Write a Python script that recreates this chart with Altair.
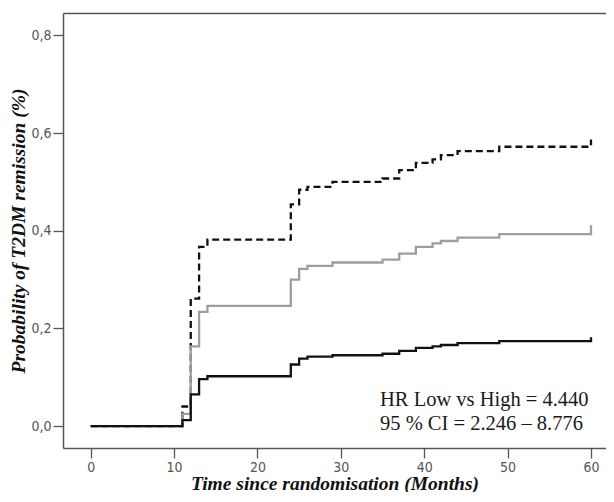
import altair as alt
import pandas as pd

# Event times (months) shared by the three Kaplan-Meier curves; last 60 = censor tick
times = [0, 11, 12, 13, 14, 24, 25, 26, 29, 35, 37, 39, 41, 42, 44, 49, 60, 60]
low_vals = [0, 0.040, 0.261, 0.367, 0.382, 0.454, 0.484, 0.490, 0.500, 0.507,
            0.524, 0.539, 0.546, 0.555, 0.563, 0.572, 0.572, 0.587]
mid_vals = [0, 0.025, 0.163, 0.234, 0.246, 0.300, 0.322, 0.328, 0.335, 0.341,
            0.353, 0.367, 0.374, 0.379, 0.386, 0.393, 0.393, 0.411]
high_vals = [0, 0.012, 0.065, 0.096, 0.102, 0.126, 0.138, 0.142, 0.145, 0.148,
             0.154, 0.160, 0.163, 0.166, 0.170, 0.174, 0.174, 0.182]
series_names = ["Low", "Medium", "High"]

annot_lines = ["HR Low vs High = 4.440", "95 % CI = 2.246 \u2013 8.776"]
annot_x = [34.7, 34.7]
annot_y = [0.053, 0.004]

rows = []
for name, vals in zip(series_names, [low_vals, mid_vals, high_vals]):
    for i, (t, v) in enumerate(zip(times, vals)):
        rows.append({"series": name, "t": t, "p": v, "i": i})
df = pd.DataFrame(rows)
ann = pd.DataFrame({"x": annot_x, "y": annot_y, "label": annot_lines})

xscale = alt.Scale(domain=[-3.32, 61.8], nice=False, zero=False)
yscale = alt.Scale(domain=[-0.045, 0.846], nice=False, zero=False)
y_title = "Probability of T2DM remission (%)"
yaxis = alt.Axis(values=[0, 0.2, 0.4, 0.6, 0.8], title=y_title,
                 labelExpr="replace(format(datum.value, '.1f'), '.', ',')",
                 grid=False, tickSize=10, labelPadding=2, titlePadding=2)

lines = alt.Chart(df).mark_line(interpolate="step-after", strokeWidth=2.3).encode(
    x=alt.X("t:Q", scale=xscale,
            axis=alt.Axis(values=[0, 10, 20, 30, 40, 50, 60], title="Time since randomisation (Months)",
                          grid=False, tickSize=10, labelPadding=2, titlePadding=0)),
    y=alt.Y("p:Q", scale=yscale, axis=yaxis, title=y_title),
    color=alt.Color("series:N", scale=alt.Scale(domain=series_names, range=["#111111", "#9e9e9e", "#111111"]), legend=None),
    strokeDash=alt.StrokeDash("series:N", scale=alt.Scale(domain=series_names, range=[[7, 4], [1, 0], [1, 0]]), legend=None),
    detail="series:N",
    order=alt.Order("i:Q"),
)

text = alt.Chart(ann).mark_text(align="left", baseline="middle", font="Liberation Serif",
                                fontSize=20.5, color="#1a1a1a").encode(
    x=alt.X("x:Q", scale=xscale,
            axis=alt.Axis(orient="top", labels=False, ticks=False, title=None, domain=True, grid=False)),
    y=alt.Y("y:Q", scale=yscale, axis=yaxis, title=y_title),
    text="label:N",
)

chart = alt.layer(lines, text).resolve_axis(x="independent").properties(
    width=543, height=435,
    padding={"left": 55, "top": 5, "right": 0, "bottom": 44},
    autosize=alt.AutoSizeParams(type="none"),
).configure_view(strokeWidth=0, stroke="transparent").configure_axis(
    domainColor="#555555", domainWidth=1.5, tickColor="#555555", tickWidth=1.3,
    labelColor="#555555", labelFont="DejaVu Sans Condensed, Liberation Sans, sans-serif", labelFontSize=14,
    titleFont="Liberation Serif", titleFontSize=19.5, titleFontWeight="bold",
    titleFontStyle="italic", titleColor="#111111",
)

chart.save("out.html", embed_options={"renderer": "svg", "actions": False})
